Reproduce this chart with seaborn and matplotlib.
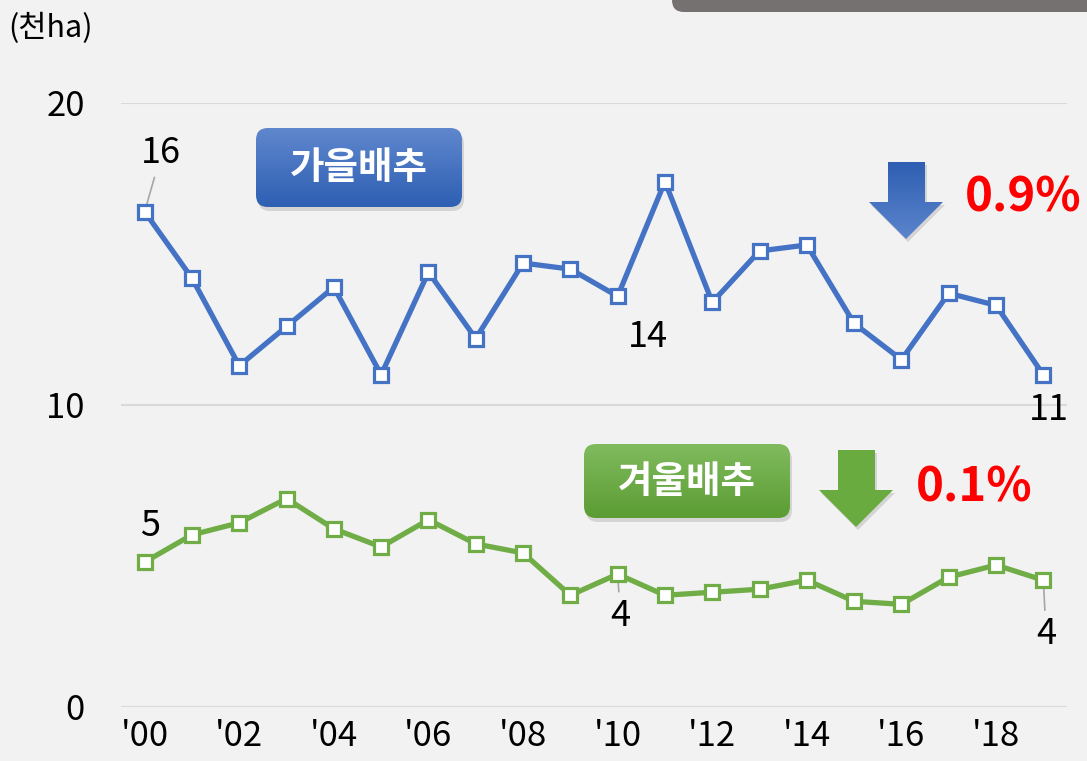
import numpy as np
import pandas as pd
import matplotlib.pyplot as plt
import seaborn as sns
from matplotlib.patches import FancyBboxPatch, Polygon

# 재배면적 (천ha)
years = list(range(2000, 2020))
autumn = [16.4, 14.2, 11.3, 12.6, 13.9, 11.0, 14.4, 12.2, 14.7, 14.5,
          13.6, 17.4, 13.4, 15.1, 15.3, 12.7, 11.5, 13.7, 13.3, 11.0]
winter = [4.8, 5.7, 6.1, 6.9, 5.9, 5.3, 6.2, 5.4, 5.1, 3.7,
          4.4, 3.7, 3.8, 3.9, 4.2, 3.5, 3.4, 4.3, 4.7, 4.2]
series_names = ["가을배추", "겨울배추"]
change_text = ["0.9%", "0.1%"]
tick_years = list(range(2000, 2019, 2))
tick_labels = ["'%02d" % (y % 100) for y in tick_years]
y_ticks = [0, 10, 20]

BLUE = "#4472c4"
GREEN = "#70ad47"
BG = "#f2f2f2"

sns.set_theme(style="white")
plt.rcParams["font.family"] = ["Noto Sans CJK KR", "DejaVu Sans"]

df = pd.DataFrame({"year": years * 2,
                   "value": autumn + winter,
                   "kind": [series_names[0]] * len(years) + [series_names[1]] * len(years)})

fig = plt.figure(figsize=(10.87, 7.61), dpi=100, facecolor=BG)
ax = fig.add_axes([121 / 1087, 1 - 707 / 761, 946 / 1087, 604 / 761])
ax.set_facecolor(BG)

sns.lineplot(data=df, x="year", y="value", hue="kind",
             palette={series_names[0]: BLUE, series_names[1]: GREEN},
             linewidth=3.8, marker="s", markersize=9.5, markerfacecolor="white",
             markeredgewidth=2.3, legend=False, ax=ax, zorder=3)
# seaborn sets one edge colour; fix per line
for line, c in zip(ax.get_lines(), [BLUE, GREEN]):
    line.set_markeredgecolor(c)

ax.set_xlim(1999.5, 2019.5)
ax.set_ylim(0, 20)
ax.set_xticks(tick_years)
ax.set_xticklabels(tick_labels)
ax.set_yticks(y_ticks)
ax.tick_params(axis="both", length=0, labelsize=25, colors="black")
ax.tick_params(axis="y", pad=26)
ax.tick_params(axis="x", pad=9)
for y in y_ticks:
    ax.axhline(y, color="#d9d9d9", lw=1.5, zorder=1)
for s in ax.spines.values():
    s.set_visible(False)
ax.set_xlabel("")
ax.set_ylabel("")

# data labels (index, series, offset in points, leader line)
def label(i, vals, dx, dy, leader):
    props = dict(arrowstyle="-", color="#a6a6a6", lw=1.2, shrinkA=2, shrinkB=0) if leader else None
    ax.annotate(f"{round(vals[i])}", xy=(years[i], vals[i]), xytext=(dx, dy),
                textcoords="offset points", ha="center", va="center",
                fontsize=26, color="black", arrowprops=props, zorder=2)

label(0, autumn, 12, 42, True)
label(10, autumn, 22, -29, False)
label(19, autumn, 4, -25, False)
label(0, winter, 4, 26, False)
label(10, winter, 2, -30, True)
label(19, winter, 2, -39, True)

# overlay in pixel coordinates for boxes and arrows
ov = fig.add_axes([0, 0, 1, 1], zorder=5)
ov.set_xlim(0, 1087)
ov.set_ylim(761, 0)
ov.axis("off")
ov.patch.set_alpha(0)

# grey tab at top right
ov.add_patch(FancyBboxPatch((672, -30), 440, 42, boxstyle="round,pad=0,rounding_size=12",
                            fc="#757170", ec="none", clip_on=False))

ov.text(8, 28, "(천ha)", fontsize=22, ha="left", va="center", color="black")


def grad_box(x0, y0, w, h, c_top, c_bot, text):
    shadow = FancyBboxPatch((x0 + 2, y0 + 4), w, h, boxstyle="round,pad=0,rounding_size=12",
                            fc="#000000", ec="none", alpha=0.12)
    ov.add_patch(shadow)
    patch = FancyBboxPatch((x0, y0), w, h, boxstyle="round,pad=0,rounding_size=12",
                           fc="none", ec="none")
    ov.add_patch(patch)
    grad = np.linspace(0, 1, 100)[:, None]
    cmap = plt.matplotlib.colors.LinearSegmentedColormap.from_list("g", [c_top, c_bot])
    im = ov.imshow(grad, extent=[x0, x0 + w, y0 + h, y0], cmap=cmap, aspect="auto", zorder=2)
    im.set_clip_path(patch)
    ov.text(x0 + w / 2, y0 + h / 2, text, fontsize=27, fontweight="bold", color="white",
            ha="center", va="center", zorder=3)


def down_arrow(xl, xr, sl, sr, ytop, yhead, ytip, c_top, c_bot):
    xc = (xl + xr) / 2
    pts = [(sl, ytop), (sr, ytop), (sr, yhead), (xr, yhead), (xc, ytip), (xl, yhead), (sl, yhead)]
    sh = Polygon([(x + 2, y + 3) for x, y in pts], closed=True, fc="black", ec="none", alpha=0.12)
    ov.add_patch(sh)
    poly = Polygon(pts, closed=True, fc="none", ec="none")
    ov.add_patch(poly)
    grad = np.linspace(0, 1, 100)[:, None]
    cmap = plt.matplotlib.colors.LinearSegmentedColormap.from_list("a", [c_top, c_bot])
    im = ov.imshow(grad, extent=[xl, xr, ytip, ytop], cmap=cmap, aspect="auto", zorder=2)
    im.set_clip_path(poly)


grad_box(256, 128, 206, 79, "#5f87cd", "#2e5fb3", series_names[0])
grad_box(584, 444, 206, 74, "#80bb5e", "#5c9c33", series_names[1])
down_arrow(869, 943, 888, 925, 162, 202, 239, "#2f5fb3", "#5b84cb")
down_arrow(819, 893, 838, 875, 450, 490, 527, "#6aab40", "#6aab40")

ov.text(1023, 197, change_text[0], fontsize=34, fontweight="bold", color="#ff0000",
        ha="center", va="center")
ov.text(974, 488, change_text[1], fontsize=34, fontweight="bold", color="#ff0000",
        ha="center", va="center")

ov.set_xlim(0, 1087)
ov.set_ylim(761, 0)

fig.savefig("out.png", dpi=100, facecolor=BG)
